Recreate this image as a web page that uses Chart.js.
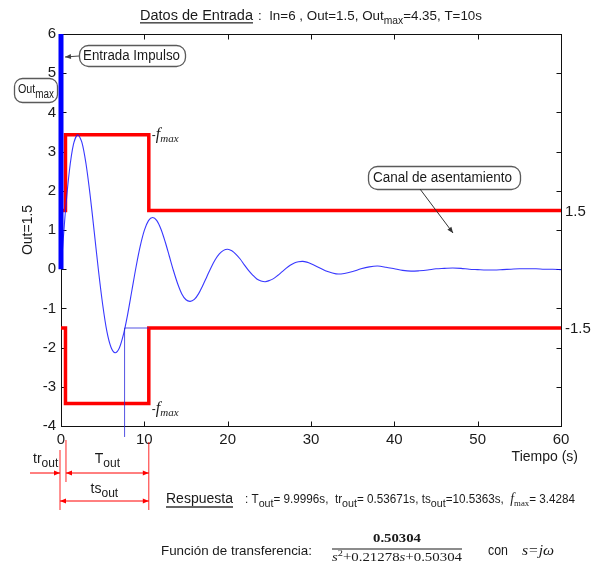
<!DOCTYPE html>
<html>
<head>
<meta charset="utf-8">
<script src="https://cdn.jsdelivr.net/npm/chart.js@4.4.1/dist/chart.umd.min.js"></script>
<style>
  html, body { margin:0; padding:0; background:#fff; }
  canvas { display:block; }
</style>
</head>
<body>
<canvas id="c" width="598" height="563"></canvas>
<script>
// ---- data ----
const xTicks = [0, 10, 20, 30, 40, 50, 60];
const yTicks = [-4, -3, -2, -1, 0, 1, 2, 3, 4, 5, 6];

// system response (time s, output)
const respT = [0,0.5,1,1.5,2,2.5,3,3.5,4,4.5,5,5.5,6,6.5,7,7.5,8,8.5,9,9.5,10,10.5,11,11.5,12,12.5,13,13.5,14,14.5,15,15.5,16,16.5,17,17.5,18,18.5,19,19.5,20,20.5,21,21.5,22,22.5,23,23.5,24,24.5,25,25.5,26,26.5,27,27.5,28,28.5,29,29.5,30,31,32,33,34,35,36,37,38,39,40,41,42,43,44,45,46,47,48,49,50,51,52,53,54,55,56,57,58,59,60];
const respY = [0,1.40,2.50,3.19,3.43,3.24,2.69,1.88,0.93,-0.04,-0.90,-1.58,-1.99,-2.13,-2.01,-1.66,-1.15,-0.55,0.05,0.58,0.99,1.24,1.32,1.24,1.02,0.70,0.33,-0.04,-0.37,-0.63,-0.78,-0.82,-0.77,-0.63,-0.42,-0.19,0.04,0.24,0.39,0.48,0.51,0.47,0.38,0.26,0.11,-0.03,-0.15,-0.25,-0.30,-0.32,-0.29,-0.24,-0.16,-0.07,0.02,0.10,0.16,0.19,0.20,0.18,0.14,0.04,-0.06,-0.12,-0.11,-0.06,0.01,0.06,0.08,0.05,0.01,-0.03,-0.05,-0.04,-0.02,0.01,0.02,0.03,0.02,0.00,-0.01,-0.02,-0.02,-0.01,0.00,0.01,0.01,0.01,0.00,0.00,-0.01];

// impulse input
const impT = [0, 0];
const impY = [0, 6];

// settling channel
const chanT  = [0, 0.537, 0.537, 10.536, 10.536, 60];
const chanUp = [1.5, 1.5, 3.428, 3.428, 1.5, 1.5];
const chanLo = [-1.5, -1.5, -3.428, -3.428, -1.5, -1.5];

// marker where the response enters the channel
const markT = [7.63, 7.63, 10.536];
const markY = [-4.28, -1.5, -1.5];

const trOut = 0.537, tsOut = 10.536;
const bandLabels = [1.5, -1.5];

const pts = (xs, ys) => xs.map((v, i) => ({ x: v, y: ys[i] }));

const SANS  = "'Liberation Sans', Arial, sans-serif";
const SERIF = "'Liberation Serif', 'Times New Roman', serif";
const INK = '#1a1a1a';
const RED = '#ff0000';

// draw a run of text pieces [text, font, dy]; optional fit width / alignment
function rich(ctx, parts, x, y, opt = {}) {
  let w = 0;
  parts.forEach(p => { ctx.font = p[1]; w += ctx.measureText(p[0]).width; });
  const sx = opt.width ? opt.width / w : 1;
  let x0 = x;
  if (opt.align === 'center') x0 = x - w * sx / 2;
  if (opt.align === 'right')  x0 = x - w * sx;
  ctx.save();
  ctx.translate(x0, y); ctx.scale(sx, 1);
  ctx.textAlign = 'left'; ctx.textBaseline = 'alphabetic';
  ctx.fillStyle = opt.color || INK;
  let cx = 0;
  parts.forEach(p => { ctx.font = p[1]; ctx.fillText(p[0], cx, p[2] || 0); cx += ctx.measureText(p[0]).width; });
  ctx.restore();
  return { x0, w: w * sx };
}

function roundBox(ctx, x, y, w, h, r) {
  ctx.beginPath();
  ctx.moveTo(x + r, y);
  ctx.arcTo(x + w, y, x + w, y + h, r);
  ctx.arcTo(x + w, y + h, x, y + h, r);
  ctx.arcTo(x, y + h, x, y, r);
  ctx.arcTo(x, y, x + w, y, r);
  ctx.closePath();
  ctx.fillStyle = '#fff'; ctx.fill();
  ctx.strokeStyle = '#5a5a5a'; ctx.lineWidth = 1.3; ctx.stroke();
}

function head(ctx, x1, y1, x2, y2, len, hw) {
  const a = Math.atan2(y2 - y1, x2 - x1);
  ctx.beginPath();
  ctx.moveTo(x2, y2);
  ctx.lineTo(x2 - len * Math.cos(a) + hw * Math.sin(a), y2 - len * Math.sin(a) - hw * Math.cos(a));
  ctx.lineTo(x2 - len * Math.cos(a) - hw * Math.sin(a), y2 - len * Math.sin(a) + hw * Math.cos(a));
  ctx.closePath(); ctx.fill();
}

function arrow(ctx, x1, y1, x2, y2, color, both) {
  ctx.strokeStyle = color; ctx.fillStyle = color; ctx.lineWidth = 1;
  ctx.beginPath(); ctx.moveTo(x1, y1); ctx.lineTo(x2, y2); ctx.stroke();
  head(ctx, x1, y1, x2, y2, 6, 2.5);
  if (both) head(ctx, x2, y2, x1, y1, 6, 2.5);
}

const frame = {
  id: 'frame',
  beforeDatasetsDraw(chart) {
    const { ctx, chartArea: a, scales: { x, y } } = chart;
    const L = Math.round(a.left) + 0.5, R = Math.round(a.right) + 0.5;
    const T = Math.round(a.top) + 0.5,  B = Math.round(a.bottom) + 0.5;
    ctx.save();
    ctx.strokeStyle = '#111'; ctx.lineWidth = 1;
    ctx.strokeRect(L, T, R - L, B - T);
    ctx.beginPath();
    xTicks.slice(1, -1).forEach(v => {
      const p = Math.round(x.getPixelForValue(v)) + 0.5;
      ctx.moveTo(p, T); ctx.lineTo(p, T + 5);
      ctx.moveTo(p, B); ctx.lineTo(p, B - 5);
    });
    yTicks.slice(1, -1).forEach(v => {
      const p = Math.round(y.getPixelForValue(v)) + 0.5;
      ctx.moveTo(L, p); ctx.lineTo(L + 5, p);
      ctx.moveTo(R, p); ctx.lineTo(R - 5, p);
    });
    ctx.stroke();
    ctx.restore();
  }
};

const annot = {
  id: 'annot',
  afterDraw(chart) {
    const { ctx, chartArea: a, scales: { x, y } } = chart;
    ctx.save();

    // title
    const t1 = rich(ctx, [['Datos de Entrada', '14px ' + SANS]], 140, 20, { width: 113 });
    ctx.fillStyle = '#555'; ctx.fillRect(t1.x0, 22, t1.w, 1.6);
    rich(ctx, [
      [':  In=6 , Out=1.5, Out', '13px ' + SANS],
      ['max', '10px ' + SANS, 4],
      ['=4.35, T=10s', '13px ' + SANS]
    ], 258, 20, { width: 224 });

    // right-hand band labels
    ctx.font = '15px ' + SANS; ctx.fillStyle = INK; ctx.textBaseline = 'middle'; ctx.textAlign = 'left';
    bandLabels.forEach(v => ctx.fillText(String(v), a.right + 4, y.getPixelForValue(v) + 1));

    // f_max labels
    const fx = x.getPixelForValue(tsOut) + 3;
    const fParts = [['-', '12px ' + SANS], ['f', 'italic 16px ' + SERIF], ['max', 'italic 11px ' + SERIF, 3]];
    rich(ctx, fParts, fx, y.getPixelForValue(chanUp[2]) + 4);
    rich(ctx, fParts, fx, y.getPixelForValue(chanLo[2]) + 9);

    // call-out boxes
    roundBox(ctx, 79.5, 45.5, 106, 21, 9);
    rich(ctx, [['Entrada Impulso', '14px ' + SANS]], 83, 60, { width: 97 });
    arrow(ctx, 79, 56, 65, 57, '#444');

    roundBox(ctx, 14.5, 78.5, 43, 24, 8);
    rich(ctx, [['Out', '13px ' + SANS], ['max', '12px ' + SANS, 5]], 18, 93, { width: 36 });

    roundBox(ctx, 368.5, 166.5, 152, 23, 9);
    rich(ctx, [['Canal de asentamiento', '14px ' + SANS]], 373, 182, { width: 139 });
    arrow(ctx, 420, 189, 453, 233, '#333');

    // x axis title
    rich(ctx, [['Tiempo (s)', '14px ' + SANS]], 578, 461, { align: 'right' });

    // dimension lines under the axis
    const p0 = x.getPixelForValue(0) - 1, pTr = x.getPixelForValue(trOut) + 0.5, pTs = x.getPixelForValue(tsOut);
    ctx.strokeStyle = 'rgba(255,0,0,0.85)'; ctx.lineWidth = 1;
    ctx.beginPath();
    ctx.moveTo(p0, 450); ctx.lineTo(p0, 510);
    ctx.moveTo(pTr, 440); ctx.lineTo(pTr, 482);
    ctx.moveTo(pTs, 442); ctx.lineTo(pTs, 510);
    ctx.stroke();
    arrow(ctx, 30, 473, p0, 473, RED, false);
    arrow(ctx, pTr, 473, pTs, 473, RED, true);
    arrow(ctx, p0, 501, pTs, 501, RED, true);
    rich(ctx, [['tr', '14px ' + SANS], ['out', '12px ' + SANS, 4]], 33, 463);
    rich(ctx, [['T', '14px ' + SANS], ['out', '12px ' + SANS, 4]], (pTr + pTs) / 2, 463, { align: 'center' });
    rich(ctx, [['ts', '14px ' + SANS], ['out', '12px ' + SANS, 4]], (p0 + pTs) / 2, 493, { align: 'center' });

    // response summary
    const r1 = rich(ctx, [['Respuesta', '14px ' + SANS]], 166, 503, { width: 67 });
    ctx.fillStyle = '#666'; ctx.fillRect(r1.x0, 506, r1.w, 2);
    rich(ctx, [
      [': T', '12px ' + SANS], ['out', '11px ' + SANS, 4],
      ['= 9.9996s,  tr', '12px ' + SANS], ['out', '11px ' + SANS, 4],
      ['= 0.53671s, ts', '12px ' + SANS], ['out', '11px ' + SANS, 4],
      ['=10.5363s,  ', '12px ' + SANS],
      ['f', 'italic 14px ' + SERIF], ['max', '9px ' + SERIF, 3],
      ['= 3.4284', '12px ' + SANS]
    ], 245, 503, { width: 330 });

    // transfer function
    rich(ctx, [['Función de transferencia:', '13px ' + SANS]], 161, 555, { width: 151 });
    rich(ctx, [['0.50304', 'bold 12px ' + SERIF]], 397, 542, { align: 'center', width: 48 });
    ctx.fillStyle = INK; ctx.fillRect(332, 548.5, 130, 1);
    rich(ctx, [
      ['s', 'italic 13px ' + SERIF], ['2', '9px ' + SERIF, -5],
      ['+0.21278', '13px ' + SERIF], ['s', 'italic 13px ' + SERIF],
      ['+0.50304', '13px ' + SERIF]
    ], 397, 561, { align: 'center', width: 130 });
    rich(ctx, [['con', '14px ' + SANS]], 488, 555, { width: 20 });
    rich(ctx, [['s=j', 'italic 15px ' + SERIF], ['ω', 'italic 15px ' + SERIF]], 522, 555, { width: 32 });

    ctx.restore();
  }
};

Chart.defaults.font.family = SANS;
Chart.defaults.color = INK;

new Chart(document.getElementById('c'), {
  type: 'line',
  data: {
    datasets: [
      { label: 'Impulso', data: pts(impT, impY), borderColor: '#0000ff', borderWidth: 5, pointRadius: 0, clip: false },
      { label: 'Marca', data: pts(markT, markY), borderColor: 'rgba(40,40,220,0.8)', borderWidth: 1, pointRadius: 0, clip: false },
      { label: 'Respuesta', data: pts(respT, respY), borderColor: 'rgba(20,20,255,0.85)', borderWidth: 1.1, pointRadius: 0, tension: 0.3 },
      { label: 'Canal sup', data: pts(chanT, chanUp), borderColor: RED, borderWidth: 3.5, pointRadius: 0 },
      { label: 'Canal inf', data: pts(chanT, chanLo), borderColor: RED, borderWidth: 3.5, pointRadius: 0 }
    ]
  },
  options: {
    responsive: false,
    animation: false,
    devicePixelRatio: 1,
    layout: { padding: { left: 0, right: 37, top: 34, bottom: 107 } },
    plugins: { legend: { display: false }, tooltip: { enabled: false } },
    scales: {
      x: {
        type: 'linear', min: 0, max: 60,
        afterFit: s => { s.height = 30; },
        afterBuildTicks: s => { s.ticks = xTicks.map(v => ({ value: v })); },
        grid: { display: false, drawTicks: false },
        border: { display: false },
        ticks: { font: { size: 15 }, color: INK, padding: 5, maxRotation: 0 }
      },
      y: {
        type: 'linear', min: -4, max: 6,
        afterFit: s => { s.width = 61; },
        afterBuildTicks: s => { s.ticks = yTicks.map(v => ({ value: v })); },
        grid: { display: false, drawTicks: false },
        border: { display: false },
        ticks: { font: { size: 15 }, color: INK, padding: 5 },
        title: { display: true, text: 'Out=1.5', font: { size: 14 }, color: INK, padding: { top: 20, bottom: 0 } }
      }
    }
  },
  plugins: [frame, annot]
});
</script>
</body>
</html>
